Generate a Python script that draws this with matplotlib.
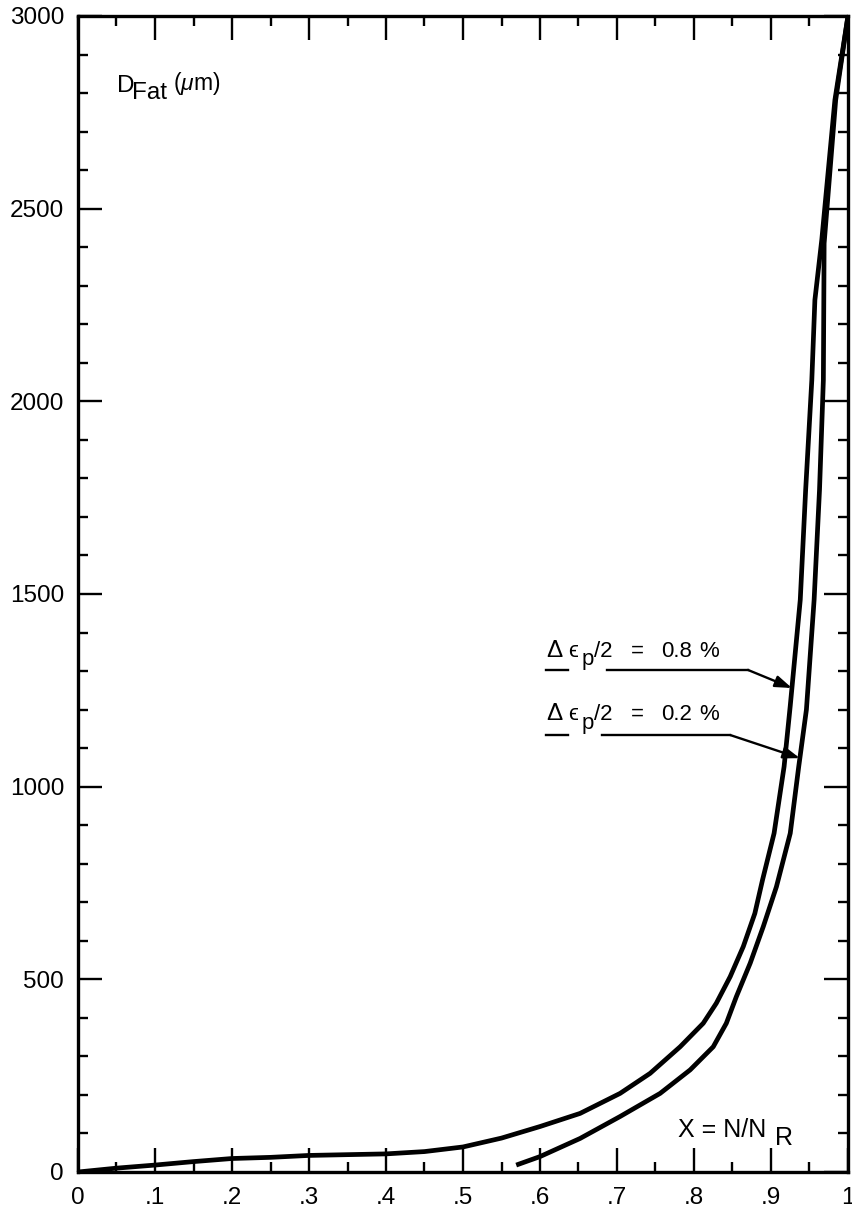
import numpy as np
import matplotlib
matplotlib.use("Agg")
import matplotlib.pyplot as plt
from matplotlib.ticker import MultipleLocator, FixedLocator

# Style
matplotlib.rcParams.update({
    "font.family":          ["Liberation Sans", "DejaVu Sans"],
    "mathtext.fontset":     "custom",
    "mathtext.rm":          "Liberation Sans",
    "mathtext.it":          "Liberation Sans:italic",
    "mathtext.sf":          "Liberation Sans",
    "mathtext.fallback":    "stixsans",
})

# Data: crack depth D_Fat (um) vs life fraction X = N/N_R
X_08 = [0, 0.05, 0.1, 0.15, 0.2, 0.25, 0.3, 0.35, 0.4, 0.45, 0.5, 0.55, 0.6,
        0.652, 0.704, 0.743, 0.782, 0.812, 0.829, 0.847, 0.864, 0.879, 0.889,
        0.904, 0.917, 0.925, 0.938, 0.945, 0.953, 0.957, 0.966, 0.983, 1.0]
D_08 = [0, 10, 18, 27, 35, 38, 43, 45, 47, 53, 65, 88, 118,
        152, 204, 256, 325, 386, 438, 507, 585, 671, 758,
        879, 1052, 1210, 1485, 1770, 2055, 2263, 2420, 2782, 3000]

X_02 = [0.572, 0.6, 0.652, 0.704, 0.756, 0.795, 0.825, 0.842, 0.855, 0.873,
        0.890, 0.907, 0.925, 0.936, 0.946, 0.956, 0.963, 0.968, 0.969, 0.984,
        1.0]
D_02 = [20, 40, 87, 144, 204, 265, 325, 386, 455, 542,
        637, 740, 879, 1052, 1200, 1485, 1770, 2055, 2410, 2782,
        3000]

XTICKS = [0, 0.1, 0.2, 0.3, 0.4, 0.5, 0.6, 0.7, 0.8, 0.9, 1.0]
XTICK_LABELS = ["0", ".1", ".2", ".3", ".4", ".5", ".6", ".7", ".8", ".9", "1"]
YTICKS = [0, 500, 1000, 1500, 2000, 2500, 3000]

LABEL_08 = ["Δ", "ϵ", "p", "/2", "=", "0.8", "%"]
LABEL_02 = ["Δ", "ϵ", "p", "/2", "=", "0.2", "%"]
# horizontal / vertical offsets (pixels) and sizes of each piece of the label
PIECE_DX = [0, 21.6, 35, 48.3, 85, 115, 153.3]
PIECE_DY = [0, 0, -8.5, 0, 0, 0, 0]
PIECE_FS = [17.5, 16, 16, 16, 16, 16, 16]

W, H = 853, 1212
PX = 72 / 100  # points per pixel
fig = plt.figure(figsize=(W / 100, H / 100), dpi=100)
ax = fig.add_axes([78 / W, 40 / H, 770 / W, 1156 / H])

ax.plot(X_08, D_08, color="black", linewidth=3.4, solid_joinstyle="round")
ax.plot(X_02, D_02, color="black", linewidth=3.4, solid_joinstyle="round")

ax.set_xlim(0, 1)
ax.set_ylim(0, 3000)

ax.xaxis.set_major_locator(FixedLocator(XTICKS))
ax.set_xticklabels(XTICK_LABELS)
ax.xaxis.set_minor_locator(MultipleLocator(0.05))
ax.yaxis.set_major_locator(FixedLocator(YTICKS))
ax.yaxis.set_minor_locator(MultipleLocator(100))

ax.tick_params(which="both", direction="in", top=True, right=True,
               width=1.7, color="black", labelsize=17.5)
ax.tick_params(which="major", length=17)
ax.tick_params(which="minor", length=7)
ax.tick_params(axis="x", which="major", pad=11)
ax.tick_params(axis="y", which="major", pad=10)

for sp in ax.spines.values():
    sp.set_linewidth(2.4)

# axis captions inside the frame
ax.text(0.0502, 0.934, "D", transform=ax.transAxes, fontsize=17.5,
        ha="left", va="baseline")
ax.text(0.0701, 0.928, "Fat", transform=ax.transAxes, fontsize=17.5,
        ha="left", va="baseline")
ax.text(0.1234, 0.936, r"($\mu$m)", transform=ax.transAxes, fontsize=16.5,
        ha="left", va="baseline")

ax.text(0.7796, 0.0305, "X = N/N", transform=ax.transAxes, fontsize=18,
        ha="left", va="baseline")
ax.text(0.905, 0.0234, "R", transform=ax.transAxes, fontsize=18,
        ha="left", va="baseline")


# curve labels with leader lines and arrows
def leader(pieces, text_xy, y_line, seg1, seg2, curve_x, curve_d, tip_d):
    for s, dx, dy, fs in zip(pieces, PIECE_DX, PIECE_DY, PIECE_FS):
        ax.annotate(s, xy=text_xy, xytext=(dx * PX, dy * PX),
                    textcoords="offset points", fontsize=fs,
                    ha="left", va="baseline")
    ax.plot(seg1, [y_line, y_line], color="black", linewidth=1.7)
    ax.plot(seg2, [y_line, y_line], color="black", linewidth=1.7)
    tip_x = np.interp(tip_d, curve_d, curve_x)
    ax.annotate("", xy=(tip_x, tip_d), xytext=(seg2[1], y_line),
                arrowprops=dict(arrowstyle="-|>,head_length=1.0,head_width=0.35",
                                color="black", linewidth=1.7,
                                shrinkA=0, shrinkB=0))


leader(LABEL_08, (0.608, 1337), 1303, [0.608, 0.636], [0.687, 0.870],
       X_08, D_08, 1256)
leader(LABEL_02, (0.608, 1173), 1134, [0.608, 0.636], [0.680, 0.847],
       X_02, D_02, 1074)

fig.savefig("out.png", dpi=100)
